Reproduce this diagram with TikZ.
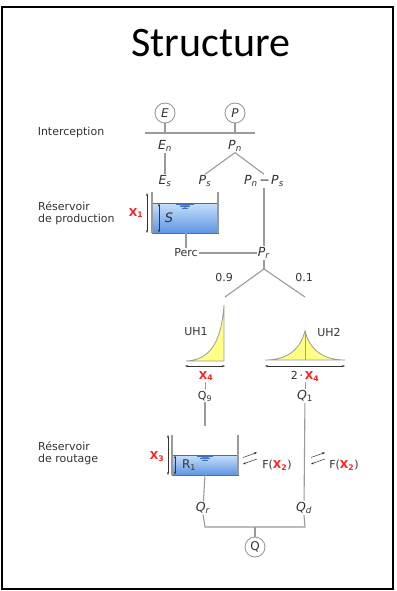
\documentclass[tikz,border=0pt]{standalone}
\usepackage{fontspec}
\setmainfont{DejaVu Sans}
\newfontfamily\titlefont{Carlito}
\usetikzlibrary{arrows.meta}
\definecolor{ln}{HTML}{9A9A9A}
\definecolor{tx}{HTML}{333333}
\definecolor{xred}{HTML}{FF2020}
\definecolor{wtop}{HTML}{C6E0FA}
\definecolor{wbot}{HTML}{5E94E2}
\definecolor{wedge}{HTML}{3F6FB8}
\definecolor{uhy}{HTML}{FFFF85}
\newcommand\lbl[2]{\textit{#1}\textsubscript{\textit{#2}}}
\newcommand\xp[1]{\textcolor{xred}{\textbf{X}\textsubscript{\textbf{#1}}}}
\tikzset{
  lab/.style={text=tx, font=\fontsize{11}{12}\selectfont, inner sep=1pt},
  mlab/.style={text=tx, font=\fontsize{12.5}{13}\selectfont, inner sep=1pt},
  circ/.style={circle, draw=ln, line width=0.9pt, minimum size=20pt, inner sep=0pt, text=tx, font=\fontsize{12}{13}\selectfont},
  conn/.style={draw=ln, line width=1.1pt},
  dar/.style={{Stealth[length=3pt,width=2.2pt]}-{Stealth[length=3pt,width=2.2pt]}, line width=0.5pt, draw=tx},
  sar/.style={-{Stealth[length=3pt,width=2.2pt]}, line width=0.5pt, draw=tx},
  wall/.style={draw=ln, line width=1.1pt},
  uh/.style={fill=uhy, draw=ln, line width=0.8pt},
}
\begin{document}
\begin{tikzpicture}[x=1pt,y=-1pt]
\useasboundingbox (0,0) rectangle (396,591);
\fill[white] (0,0) rectangle (396,591);
\draw[black, line width=1.6pt] (2,7) rectangle (393,589);
\node[font=\titlefont\fontsize{42}{50}\selectfont] (title) at (211,43) {Structure};

% interception
\node[circ, font=\fontsize{12}{13}\selectfont\itshape] (E) at (165,113) {E};
\node[circ, font=\fontsize{12}{13}\selectfont\itshape] (P) at (235,113) {P};
\coordinate (iL) at (145,133);
\coordinate (iR) at (255,133);
\draw[draw=ln, line width=2pt] (iL) -- (iR);
\draw[conn] (E) -- (E|-iL);
\draw[conn] (P) -- (P|-iL);
\node[lab] (interc) at (71,132) {Interception};
\node[mlab] (En) at (165,146) {\lbl En};
\node[mlab] (Pn) at (235,146) {\lbl Pn};
\node[mlab] (Es) at (165,181) {\lbl Es};
\node[mlab] (Ps) at (205,181) {\lbl Ps};
\node[mlab] (PnPs) at (264,181) {\lbl Pn\kern1.5pt−\kern1.5pt\lbl Ps};
\draw[conn] (En) -- (Es);
\draw[conn] (Ps.north) -- (Pn.south) -- (PnPs.north);

% production reservoir
\node[lab, align=left, anchor=west] (rprod) at (37,213) {Réservoir\\de production};
\shade[top color=wtop, bottom color=wbot] (152,203) rectangle (218,233);
\draw[draw=wedge, line width=0.8pt] (152,203) rectangle (218,233);
\fill[wedge!80] (178,204) -- (192,204) -- (185,208) -- cycle;
\draw[wedge, line width=0.5pt] (176,204) -- (194,204) (180,206) -- (190,206) (182,208) -- (188,208);
\draw[wall] (152,192) -- (152,233);
\draw[wall] (218,192) -- (218,233);
\node[mlab, font=\fontsize{13}{14}\selectfont\itshape] (S) at (169,218) {S};
\draw[dar] (159,203.5) -- (159,232.5);
\draw[dar] (147,193) -- (147,233);
\node[lab] (X1) at (136,213) {\xp1};
\coordinate (pbot) at (186,233);
\node[lab] (Perc) at (186,253) {Perc};
\node[mlab] (Pr) at (264,253) {\lbl Pr};
\draw[conn] (pbot) -- (Perc);
\draw[conn] (Perc) -- (Pr);
\draw[conn] (PnPs.south) -- (Pr.north);

% split
\coordinate (spl) at (264,269);
\coordinate (s1) at (225,297);
\coordinate (s2) at (305,297);
\draw[conn] (Pr.south) -- (spl);
\draw[conn] (s1) -- (spl) -- (s2);
\node[lab] (r09) at (224,277) {0.9};
\node[lab] (r01) at (304,277) {0.1};

% UH1
\draw[uh] (186,361) .. controls (207,360) and (221,347) .. (224,305) -- (224,361) -- cycle;
\node[lab] (UH1) at (196,332) {UH1};
\draw[dar] (185,366) -- (225,366);
\node[lab] (X4a) at (206,376) {\xp4};
\node[lab] (Q9) at (205,396) {Q\textsubscript{9}};
\draw[conn, line width=0.8pt] (X4a) -- (Q9);

% UH2
\draw[uh] (265,360) .. controls (287,360) and (300,350) .. (305,331) .. controls (310,350) and (323,360) .. (345,360) -- cycle;
\draw[draw=ln, line width=0.8pt] (305,331) -- (305,360);
\node[lab] (UH2) at (329,332) {UH2};
\draw[dar] (265,366) -- (345,366);
\node[lab] (X4b) at (305,376) {2\,·\,\xp4};
\node[mlab] (Q1) at (305,396) {\textit{Q}\textsubscript{1}};
\draw[conn, line width=0.8pt] (X4b) -- (Q1);

% routing reservoir
\node[lab, align=left, anchor=west] (rrout) at (37,453) {Réservoir\\de routage};
\coordinate (rin) at (205,426);
\draw[conn] (Q9) -- (rin);
\shade[top color=wtop, bottom color=wbot] (172,455) rectangle (238,475);
\draw[draw=wedge, line width=0.8pt] (172,455) rectangle (238,475);
\fill[wedge!80] (199,456) -- (211,456) -- (205,459.5) -- cycle;
\draw[wedge, line width=0.5pt] (197,456) -- (213,456) (200,458) -- (210,458) (202,460) -- (208,460);
\draw[wall] (172,435) -- (172,475);
\draw[wall] (238,435) -- (238,475);
\draw[dar] (175,455.5) -- (175,474.5);
\draw[dar] (168,435) -- (168,475);
\node[lab] (X3) at (157,457) {\xp3};
\node[lab, text=tx, font=\fontsize{12}{13}\selectfont] (R1) at (189,465) {R\textsubscript{1}};
\draw[sar] (243,457.5) -- (257,452.5);
\draw[sar] (257,459) -- (243,464);
\node[lab] (F1) at (277,465) {F(\xp2)};
\draw[sar] (311,457.5) -- (325,452.5);
\draw[sar] (325,459) -- (311,464);
\node[lab] (F2) at (344,465) {F(\xp2)};

\coordinate (rbot) at (205,475);
\node[mlab] (Qr) at (203,508) {\lbl Qr};
\node[mlab] (Qd) at (304,508) {\lbl Qd};
\draw[conn] (rbot) -- (Qr);
\draw[conn] (Q1) -- (Qd);
\coordinate (jL) at (205,527);
\coordinate (jR) at (305,527);
\coordinate (jC) at (255,527);
\draw[conn] (Qr.south) -- (jL) -- (jR) -- (Qd.south);
\node[circ] (Q) at (255,547) {Q};
\draw[conn] (jC) -- (Q);
\end{tikzpicture}
\end{document}
